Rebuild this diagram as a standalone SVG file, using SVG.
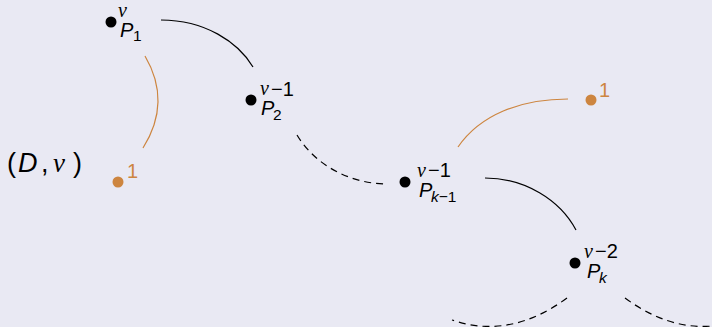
<svg xmlns="http://www.w3.org/2000/svg" width="712" height="327" viewBox="0 0 712 327">
<style>
.bg{fill:#e9e9f3}
.dot{fill:#000}
.odot{fill:#cd853f}
.nu{font-family:"Liberation Serif",serif;font-style:italic;font-size:20px}
.sn{font-family:"Liberation Sans",sans-serif;font-size:20px}
.si{font-family:"Liberation Sans",sans-serif;font-style:italic;font-size:20px}
.sub{font-family:"Liberation Sans",sans-serif;font-size:15.5px}
.subi{font-family:"Liberation Sans",sans-serif;font-style:italic;font-size:15.5px}
.or{fill:#cd853f}
.e{fill:none;stroke:#000;stroke-width:1.2}
.eo{fill:none;stroke:#cd853f;stroke-width:1.2}
.d{stroke-dasharray:7 5}
</style>
<rect class="bg" x="0" y="0" width="712" height="327"/>
<g id="label-Dnu">
<text y="172" font-family="Liberation Sans, sans-serif" font-size="27"><tspan x="7">(</tspan><tspan x="18" font-style="italic">D</tspan><tspan x="41">,</tspan><tspan x="53" font-family="Liberation Serif, serif" font-style="italic">ν</tspan><tspan x="73">)</tspan></text>
</g>
<g id="connectors">
<path class="e" d="M161,20 C205,20 238,42 253,67"/>
<path class="eo" d="M145,56 Q172,102 143,148"/>
<path class="e d" d="M297,135 C315,165 350,184 388,184"/>
<path class="eo" d="M458,147 C480,115 520,99 568,99"/>
<path class="e" d="M485,178 C525,178 560,200 576,230"/>
<path class="e d" d="M567,298 Q510,340 452,320"/>
<path class="e d" d="M625,298 Q682,340 740,320"/>
</g>
<g id="node-P1">
<circle class="dot" cx="111" cy="22" r="5.5"/>
<text class="nu" x="118" y="17">ν</text>
<text class="si" x="120" y="37">P</text>
<text class="sub" x="133" y="41">1</text>
</g>
<g id="node-P2">
<circle class="dot" cx="251" cy="100" r="5.5"/>
<text class="nu" x="260" y="95">ν</text>
<text class="sn" x="271" y="96">−1</text>
<text class="si" x="261" y="115">P</text>
<text class="sub" x="273" y="120">2</text>
</g>
<g id="node-Pk-1">
<circle class="dot" cx="405" cy="182" r="5.5"/>
<text class="nu" x="417" y="177">ν</text>
<text class="sn" x="428" y="177">−1</text>
<text class="si" x="419" y="197">P</text>
<text class="subi" x="431" y="202">k<tspan font-style="normal">−1</tspan></text>
</g>
<g id="node-Pk">
<circle class="dot" cx="575" cy="263" r="5.5"/>
<text class="nu" x="584" y="258">ν</text>
<text class="sn" x="595" y="258">−2</text>
<text class="si" x="587" y="278">P</text>
<text class="subi" x="599" y="283">k</text>
</g>
<g id="node-one-a">
<circle class="odot" cx="118" cy="182" r="5.5"/>
<text class="sn or" x="127" y="178">1</text>
</g>
<g id="node-one-b">
<circle class="odot" cx="591" cy="100" r="5.5"/>
<text class="sn or" x="599" y="97">1</text>
</g>
</svg>
